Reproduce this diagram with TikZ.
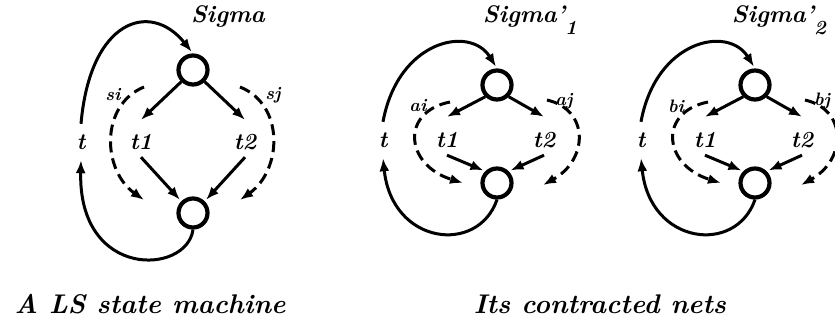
\documentclass[tikz,border=0pt]{standalone}
\usetikzlibrary{arrows.meta,positioning}
\tikzset{
  place/.style={circle,draw,line width=4.2pt,minimum size=29pt,inner sep=0pt},
  trans label/.style={font=\fontsize{23}{26}\selectfont\bfseries\itshape,inner sep=0pt,minimum height=30pt},
  set label/.style={font=\fontsize{18}{20}\selectfont\bfseries\itshape,inner sep=1pt},
  net name/.style={font=\fontsize{24}{27}\selectfont\bfseries\itshape,inner sep=0pt,anchor=base},
  caption/.style={font=\fontsize{27}{30}\selectfont\bfseries\itshape,inner sep=0pt,anchor=base},
  flow arrow/.style={-{Latex[length=13pt,width=10pt]},line width=3pt},
  set arrow/.style={flow arrow,dash pattern=on 11pt off 6pt}
}

\begin{document}
\begin{tikzpicture}[x=1pt,y=-1pt]
  \useasboundingbox (0,0) rectangle (835,322);
  % the LS state machine
  \node[place] (top) at (193,70) {};
  \node[place] (bot) at (193,213) {};
  \node[trans label] (t1) at (141,142) {t1};
  \node[trans label] (t2) at (245,142) {t2};
  \node[trans label,minimum height=36pt] (t) at (81,142) {t};
  \node[net name] (sigma) at (228,22) {Sigma};
  \node[set label] (si) at (113,95) {si};
  \node[set label] (sj) at (273,95) {sj};
  \draw[flow arrow] (top.south west) -- ([yshift=7pt]t1.north);
  \draw[flow arrow] (top.south east) -- ([yshift=7pt]t2.north);
  \draw[flow arrow,shorten >=2pt] (t1.south) -- (bot.north west);
  \draw[flow arrow,shorten >=2pt] (t2.south) -- (bot.north east);
  \draw[flow arrow] (bot.south) .. controls (187,275) and (78,280) .. (t.south);
  \draw[flow arrow,shorten >=2pt] (t.north) .. controls (90,20) and (150,0) .. (top.north);
  \coordinate (si-a) at (144,87);
  \coordinate (si-b) at (144,200);
  \coordinate (sj-a) at (240,87);
  \coordinate (sj-b) at (240,200);
  \draw[set arrow] (si-a) .. controls (100,105) and (102,170) .. (si-b);
  \draw[set arrow] (sj-a) .. controls (285,105) and (282,170) .. (sj-b);
  % the contracted nets
  \foreach \x/\n/\s/\d in {497/1/a/33,755/2/b/24}{
    \node[place] (top\n) at (\x,85) {};
    \node[place] (bot\n) at (\x,183) {};
    \node[trans label] (t1-\n) at (\x-50,140) {t1};
    \node[trans label] (t2-\n) at (\x+47,140) {t2};
    \node[trans label,minimum height=36pt] (t-\n) at (\x-114,140) {t};
    \node[net name] (sigma\n) at (\x+\d,22) {Sigma'\raisebox{-12pt}{\fontsize{20}{21}\selectfont\n}};
    \node[set label] (\s i) at (\x-79,106) {\s i};
    \node[set label] (\s j) at (\x+67,101) {\s j};
    \draw[flow arrow] (top\n.south west) -- ([yshift=8pt]t1-\n.north);
    \draw[flow arrow] (top\n.south east) -- ([yshift=8pt]t2-\n.north);
    \draw[flow arrow,shorten >=2pt] (t1-\n.south) -- (bot\n.north west);
    \draw[flow arrow,shorten >=2pt] (t2-\n.south) -- (bot\n.north east);
    \draw[flow arrow] (bot\n.south) .. controls (\x-19,255) and (\x-105,245) .. (t-\n.south);
    \draw[flow arrow,shorten >=2pt] (t-\n.north) .. controls (\x-99,40) and (\x-27,25) .. (top\n.north);
    \coordinate (\s i-a) at (\x-47,102);
    \coordinate (\s i-b) at (\x-34,183);
    \coordinate (\s j-a) at (\x+50,100);
    \coordinate (\s j-b) at (\x+46,185);
    \draw[set arrow] (\s i-a) .. controls (\x-97,112) and (\x-92,165) .. (\s i-b);
    \draw[set arrow] (\s j-a) .. controls (\x+93,110) and (\x+91,160) .. (\s j-b);
  }
  \node[caption] (cap1) at (150,313) {A LS state machine};
  \node[caption] (cap2) at (600,313) {Its contracted nets};
\end{tikzpicture}
\end{document}
